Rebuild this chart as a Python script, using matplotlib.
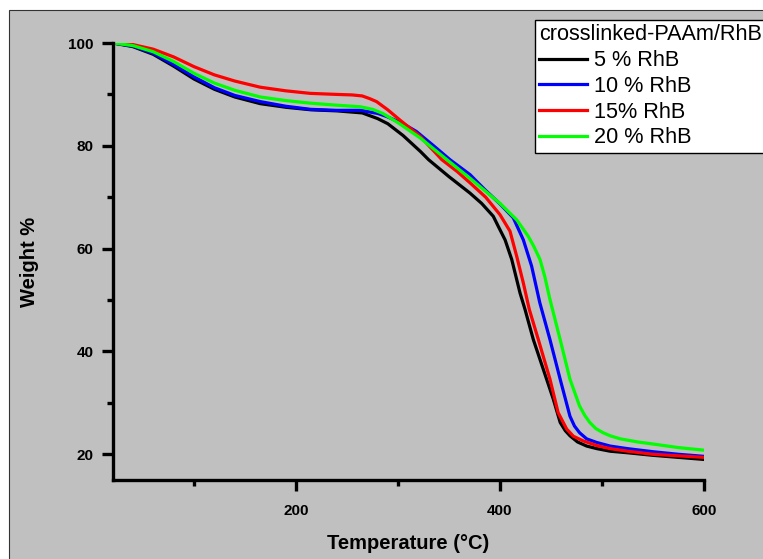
import matplotlib
matplotlib.use('Agg')
import matplotlib.pyplot as plt
from matplotlib.patches import Rectangle
from matplotlib.ticker import MultipleLocator

plt.rcParams['font.family'] = ['Liberation Sans', 'DejaVu Sans']

# TGA curves, temperature (°C) vs weight (%)
t_5 = [20.6, 40, 60, 80, 100, 120, 140, 165, 190, 215, 240, 265, 280, 290, 305, 322,
       330, 350, 370.6, 382, 393.4, 398.4, 405, 411.5, 419.6, 424.5, 432.7, 442.5, 452.3,
       459, 464, 468.6, 476, 485, 495, 508, 525, 550, 575, 600]
w_5 = [100, 99.3, 97.8, 95.5, 93.0, 91.0, 89.5, 88.2, 87.5, 87.0, 86.8, 86.4, 85.3, 84.3,
       82.0, 78.9, 77.3, 74.0, 70.8, 68.8, 66.3, 64.3, 61.7, 57.9, 51.4, 48.2, 42.3, 36.5,
       30.7, 26.2, 24.6, 23.6, 22.4, 21.6, 21.1, 20.6, 20.3, 19.8, 19.4, 19.0]

t_10 = [20.6, 40, 60, 80, 100, 120, 140, 165, 190, 214, 240, 263, 280, 289, 305, 318,
        335, 351, 370.6, 385, 400, 413, 422.9, 431, 439, 449, 459, 468.6, 473, 478, 485,
        494.8, 508, 525, 550, 575, 600]
w_10 = [100, 99.4, 98.0, 95.8, 93.4, 91.3, 89.8, 88.6, 87.7, 87.1, 86.9, 86.9, 86.3, 85.7,
        84.3, 82.8, 80.0, 77.3, 74.4, 71.5, 68.7, 66.0, 61.7, 56.6, 49.5, 42.3, 34.6, 27.4,
        25.5, 24.2, 23.0, 22.3, 21.6, 21.1, 20.5, 20.0, 19.6]

t_15 = [20.6, 40, 60, 80, 100, 120, 140, 165, 190, 214, 240, 255, 265, 272, 279, 290,
        302, 322, 343, 358, 370.6, 386, 400, 409.8, 416.4, 422.9, 428.7, 437.6, 449, 457,
        465.4, 472, 481.7, 495, 508, 525, 550, 575, 600]
w_15 = [100, 99.7, 98.8, 97.3, 95.4, 93.8, 92.6, 91.4, 90.7, 90.2, 90.0, 89.9, 89.7, 89.2,
        88.6, 87.0, 85.0, 81.8, 77.3, 75.0, 72.8, 70.0, 66.6, 63.4, 58.5, 53.3, 48.2, 42.3,
        34.6, 28.1, 24.9, 23.5, 22.6, 21.7, 21.1, 20.6, 20.0, 19.7, 19.4]

t_20 = [20.6, 40, 60, 80, 100, 120, 140, 165, 190, 214, 240, 263, 275, 285, 300, 322,
        348, 370.6, 385, 400, 416.4, 427.7, 433, 439.2, 444, 449, 459, 468.6, 478, 483, 488,
        494, 501, 508, 518, 535, 550, 575, 600]
w_20 = [100, 99.5, 98.3, 96.4, 94.1, 92.2, 90.8, 89.5, 88.8, 88.3, 87.9, 87.6, 87.1, 86.3,
        84.5, 81.5, 77.3, 73.7, 71.3, 68.8, 65.6, 62.4, 60.5, 57.9, 54.5, 50.1, 42.3, 34.6,
        29.4, 27.6, 26.2, 25.0, 24.2, 23.6, 23.0, 22.4, 22.0, 21.3, 20.8]

labels = ['5 % RhB', '10 % RhB', '15% RhB', '20 % RhB']
colors = ['#000000', '#0000ff', '#ff0000', '#00ff00']

GRAY = '#c0c0c0'

fig = plt.figure(figsize=(7.63, 5.59), dpi=100, facecolor='white')
# page frame behind the plot
fig.patches.append(Rectangle((9 / 763, -0.1), 1.2, 1.1 - 10 / 559,
                             transform=fig.transFigure, facecolor=GRAY,
                             edgecolor='#333333', linewidth=0.8, zorder=-10))

ax = fig.add_axes([113 / 763, 1 - 480 / 559, (704 - 113) / 763, (480 - 43) / 559])
ax.set_facecolor('none')

series = [(t_5, w_5), (t_10, w_10), (t_15, w_15), (t_20, w_20)]
for (t, w), lab, c in zip(series, labels, colors):
    ax.plot(t, w, color=c, linewidth=2.3, label=lab, solid_joinstyle='round')

ax.set_xlim(20.6, 600)
ax.set_ylim(15, 100)
ax.xaxis.set_major_locator(MultipleLocator(200))
ax.xaxis.set_minor_locator(MultipleLocator(100))
ax.yaxis.set_major_locator(MultipleLocator(20))
ax.yaxis.set_minor_locator(MultipleLocator(10))

for s in ['top', 'right']:
    ax.spines[s].set_visible(False)
for s in ['left', 'bottom']:
    ax.spines[s].set_linewidth(2.4)

ax.tick_params(which='major', direction='out', length=8, width=2.4, labelsize=11)
ax.tick_params(which='minor', direction='out', length=4.5, width=2.4)
ax.tick_params(axis='x', which='major', pad=9)
ax.tick_params(axis='y', which='major', pad=6)
for lbl in ax.get_xticklabels() + ax.get_yticklabels():
    lbl.set_fontweight('bold')

ax.set_xlabel('Temperature (°C)', fontsize=14.5, fontweight='bold', labelpad=12)
ax.set_ylabel('Weight %', fontsize=14.5, fontweight='bold', labelpad=21)

leg = fig.legend(loc='upper left', bbox_to_anchor=(535 / 763, 1 - 20 / 559),
                 title='crosslinked-PAAm/RhB', fontsize=15.6, title_fontsize=15.6,
                 alignment='left', frameon=True, fancybox=False, framealpha=1,
                 edgecolor='black', borderpad=0.2, borderaxespad=0,
                 handlelength=2.2, handletextpad=0.3, labelspacing=0.22)
leg.get_frame().set_linewidth(1.0)
for line in leg.get_lines():
    line.set_linewidth(2.3)

fig.savefig('out.png', dpi=100, facecolor='white')
